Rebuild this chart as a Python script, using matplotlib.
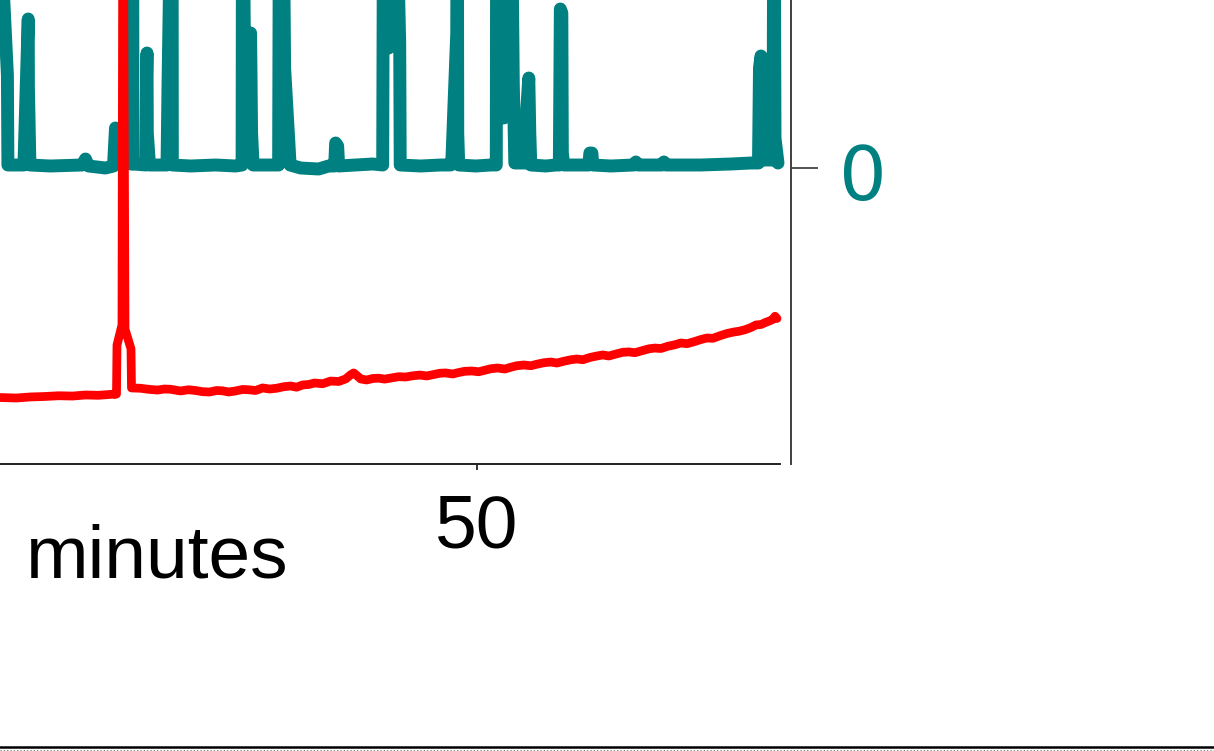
import matplotlib
matplotlib.use("Agg")
import matplotlib.pyplot as plt
import matplotlib.transforms as mtransforms
from matplotlib.lines import Line2D

plt.rcParams['font.family'] = ['Liberation Sans', 'DejaVu Sans']

# teal trace (right axis), time in minutes
teal_t = [0, 11.2, 21.2, 25.7, 26.0, 26.05, 26.55, 26.575,
          27.375, 27.59, 27.6, 27.675,
          28.7, 30.3, 30.45, 30.6, 31.45,
          31.85, 31.95, 32.15, 32.35,
          32.75, 32.8, 32.825,
          33.475, 33.5, 33.525, 33.54, 33.65,
          34.525, 34.575, 34.775, 34.79,
          35.7, 36.95, 37.95,
          38.275, 38.3, 38.4, 38.7, 38.75, 38.825,
          40.1, 40.15, 40.3, 40.4, 40.6, 40.675,
          41.2, 42.1, 42.6,
          42.9, 42.95, 43.05, 43.1,
          43.95, 44.8,
          45.3, 45.35, 45.6, 45.75, 45.9, 46.15, 46.175,
          47.2, 48.2,
          48.7, 48.75, 49.0, 49.025, 49.05, 49.1,
          49.95, 50.7,
          50.975, 51.0, 51.35, 51.7, 51.825, 51.9, 52.45, 52.5, 52.6, 52.65, 52.7,
          53.45, 53.95,
          54.125, 54.175, 54.25, 54.275, 54.35,
          55.6, 55.65, 55.75, 55.8,
          56.7, 57.85, 57.95, 58.05, 59.25, 59.35, 59.45, 61.2, 62.7, 63.7,
          64.075, 64.125, 64.2, 64.25, 64.3, 64.8,
          64.85, 64.9, 65.05]
teal_v = [0.03, 0.03, 0.03, 0.03, 0.03, 3.0, 0.93, 0.03,
          0.03, 1.49, 0.8, 0.03,
          0.02, 0.03, 0.09, 0.02, 0.0,
          0.02, 0.40, 0.38, 0.05,
          0.04, 3.5, 0.04,
          0.03, 0.9, 1.15, 0.35, 0.03,
          0.03, 0.85, 3.5, 0.03,
          0.02, 0.03, 0.02,
          0.03, 3.5, 1.0, 1.35, 0.35, 0.03,
          0.03, 3.5, 3.5, 1.0, 0.3, 0.03,
          0.0, -0.01, 0.02,
          0.02, 0.25, 0.22, 0.02,
          0.03, 0.04,
          0.03, 3.5, 1.2, 3.5, 3.5, 1.25, 0.03,
          0.02, 0.03,
          0.03, 0.05, 1.35, 3.5, 0.35, 0.03,
          0.02, 0.03,
          0.03, 3.5, 0.5, 3.5, 0.85, 0.05, 0.05, 0.6, 0.9, 0.35, 0.03,
          0.02, 0.03,
          0.03, 1.59, 1.55, 0.15, 0.03,
          0.03, 0.15, 0.15, 0.03,
          0.02, 0.03, 0.06, 0.03, 0.03, 0.06, 0.03, 0.03, 0.04, 0.05,
          0.05, 1.0, 1.12, 1.05, 0.08, 0.08,
          3.5, 0.3, 0.05]

# red trace (left axis)
red_t = [0, 16.2, 26.2, 27.0, 27.7, 28.4, 29.1, 29.8, 30.45, 31.1, 31.8, 31.9,
         32.0, 32.025, 32.275, 32.325, 32.425, 32.725, 32.75,
         33.2, 33.6, 34.05, 34.4, 34.7, 35.2, 35.6, 35.95, 36.3, 36.65, 37.0,
         37.3, 37.6, 37.95, 38.3, 38.6, 38.95, 39.3, 39.65, 40.0, 40.35, 40.7,
         41.0, 41.3, 41.6, 41.9, 42.3, 42.7, 43.1, 43.45, 43.7, 43.85, 44.05,
         44.2, 44.5, 44.8, 45.1, 45.4, 45.7, 46.1, 46.45, 46.8, 47.15, 47.5,
         47.8, 48.15, 48.45, 48.8, 49.1, 49.4, 49.75, 50.1, 50.4, 50.7, 51.05,
         51.4, 51.7, 52.0, 52.35, 52.7, 53.0, 53.35, 53.7, 54.0, 54.35, 54.7,
         55.0, 55.3, 55.65, 56.0, 56.3, 56.6, 56.95, 57.3, 57.6, 57.9, 58.25,
         58.6, 58.9, 59.2, 59.55, 59.9, 60.2, 60.5, 60.85, 61.2, 61.5, 61.8,
         62.15, 62.5, 62.85, 63.1, 63.4, 63.7, 63.95, 64.2, 64.45, 64.65, 64.8,
         64.9, 65.0]
red_v = [4.3, 4.35, 4.43, 4.4, 4.47, 4.5, 4.55, 4.53, 4.6, 4.58, 4.65, 4.63,
         4.66, 7.93, 9.27, 45, 9.0, 7.67, 5.07,
         5.05, 4.98, 4.93, 5.0, 4.98, 4.87, 4.95, 4.9, 4.82, 4.8, 4.9,
         4.88, 4.8, 4.87, 4.97, 4.95, 4.9, 5.07, 5.0, 5.05, 5.15, 5.2,
         5.12, 5.27, 5.3, 5.4, 5.35, 5.53, 5.5, 5.67, 5.95, 6.07, 5.85,
         5.67, 5.6, 5.7, 5.72, 5.66, 5.73, 5.82, 5.8, 5.88, 5.93, 5.87,
         5.95, 6.05, 6.07, 6.0, 6.1, 6.18, 6.2, 6.15, 6.25, 6.35, 6.4,
         6.33, 6.45, 6.55, 6.6, 6.55, 6.65, 6.75, 6.8, 6.73, 6.85, 6.95,
         7.0, 6.95, 7.1, 7.2, 7.27, 7.2, 7.33, 7.45, 7.47, 7.42, 7.55,
         7.68, 7.73, 7.7, 7.85, 7.95, 8.07, 8.02, 8.15, 8.3, 8.4, 8.38,
         8.55, 8.7, 8.8, 8.85, 8.95, 9.1, 9.27, 9.3, 9.45, 9.55, 9.65,
         9.85, 9.7]

x_ticks = [50]
teal_ticks = [0]

W, H = 1214, 751
fig = plt.figure(figsize=(W / 100, H / 100), dpi=100)

# axes extend past the left and top edges of the figure
left, right, bottom, top = -524, 780, 464, -286
ax = fig.add_axes([left / W, (H - bottom) / H, (right - left) / W, (bottom - top) / H])
ax2 = ax.twinx()
ax2.set_zorder(ax.get_zorder() - 1)
ax.patch.set_visible(False)

ax2.plot(teal_t, teal_v, color='#008080', lw=9.3, solid_capstyle='round',
         solid_joinstyle='round', clip_on=False)
ax.plot(red_t, red_v, color='#ff0000', lw=6.3, solid_capstyle='round',
        solid_joinstyle='round', clip_on=False)

ax.set_xlim(0, 65.15)
ax.set_ylim(0, 50)
ax2.set_ylim(-2.96, 4.54)

for s in ['top', 'right']:
    ax.spines[s].set_visible(False)
for s in ['top', 'left', 'bottom']:
    ax2.spines[s].set_visible(False)
ax.spines['bottom'].set_linewidth(1.4)
ax.spines['bottom'].set_color('#222222')
ax2.spines['right'].set_position(('outward', 7.9))
ax2.spines['right'].set_linewidth(1.4)
ax2.spines['right'].set_color('#404040')

ax.set_xticks(x_ticks)
ax.tick_params(axis='x', length=4.5, width=1.1, pad=16.5, labelsize=54)
ax.set_yticks([])
ax2.set_yticks(teal_ticks)
ax2.tick_params(axis='y', length=19.5, width=1.1, pad=15, labelsize=54,
                labelcolor='#008080', color='#222222')
shift = mtransforms.ScaledTranslation(0, -4 / 100, fig.dpi_scale_trans)
for lab in ax2.get_yticklabels():
    lab.set_family('DejaVu Sans')
    lab.set_transform(lab.get_transform() + shift)

ax.set_xlabel('minutes', fontsize=54)
ax.xaxis.set_label_coords(0.5225, -0.0787)

# edge of the panel below
fig.add_artist(Line2D([0, 1], [0.0047, 0.0047], color='black', lw=1.8,
                      transform=fig.transFigure))
fig.add_artist(Line2D([0, 1], [0.0013, 0.0013], color='#777777', lw=0.8,
                      linestyle=(0, (1, 2)), transform=fig.transFigure))

fig.savefig('out.png', dpi=100)
